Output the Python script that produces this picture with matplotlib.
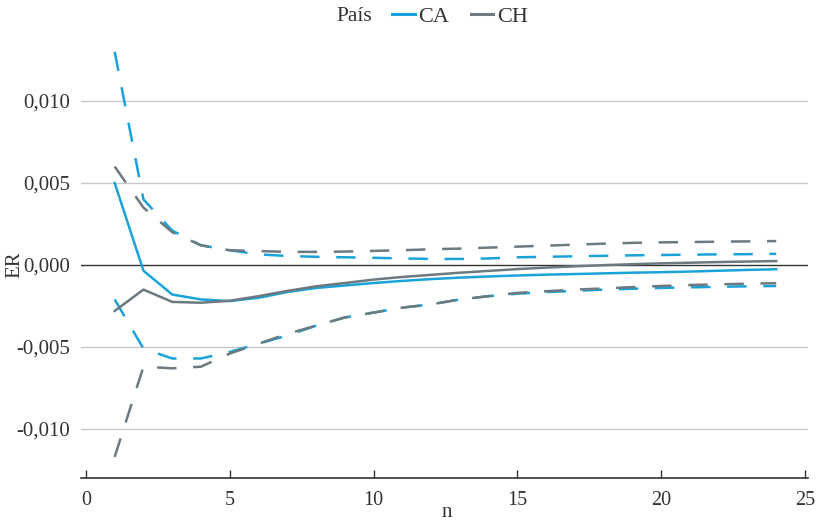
import matplotlib.pyplot as plt
from matplotlib.lines import Line2D

plt.rcParams['font.family'] = ['Liberation Serif', 'DejaVu Serif']
plt.rcParams['lines.scale_dashes'] = False

n = list(range(1, 25))

ca_er = [0.0050, -0.00035, -0.0018, -0.0021, -0.0022, -0.0020, -0.00165, -0.0014,
         -0.00125, -0.0011, -0.00097, -0.00086, -0.00077, -0.0007, -0.00064, -0.00059,
         -0.00055, -0.00051, -0.00047, -0.00044, -0.0004, -0.00035, -0.0003, -0.00026]
ca_sup = [0.0130, 0.0040, 0.0021, 0.0012, 0.0009, 0.00065, 0.00055, 0.0005,
          0.00047, 0.00044, 0.0004, 0.00037, 0.00037, 0.0004, 0.00047, 0.0005,
          0.00053, 0.00056, 0.00059, 0.00061, 0.00063, 0.00065, 0.00066, 0.00068]
ca_inf = [-0.0021, -0.0051, -0.0057, -0.0057, -0.0053, -0.0048, -0.0043, -0.0037,
          -0.0032, -0.0029, -0.0026, -0.0024, -0.0021, -0.0019, -0.00175, -0.00165,
          -0.00158, -0.0015, -0.00145, -0.0014, -0.00136, -0.00133, -0.0013, -0.00128]

ch_er = [-0.0028, -0.0015, -0.00225, -0.0023, -0.00218, -0.0019, -0.00158, -0.0013,
         -0.0011, -0.00089, -0.00073, -0.0006, -0.00047, -0.00036, -0.00025, -0.00016,
         -0.00008, -0.00001, 0.00005, 0.0001, 0.00014, 0.00018, 0.00021, 0.00024]
ch_sup = [0.0060, 0.0035, 0.0020, 0.0012, 0.0009, 0.00085, 0.0008, 0.0008,
          0.00082, 0.00086, 0.0009, 0.00096, 0.001, 0.00106, 0.00112, 0.00118,
          0.00124, 0.0013, 0.00135, 0.00138, 0.0014, 0.00142, 0.00144, 0.00146]
ch_inf = [-0.0117, -0.0062, -0.0063, -0.0062, -0.0054, -0.0048, -0.0042, -0.0037,
          -0.0032, -0.0029, -0.0026, -0.0024, -0.0021, -0.0019, -0.0017, -0.0016,
          -0.0015, -0.00143, -0.00135, -0.00128, -0.00122, -0.00118, -0.00114, -0.00111]

paises = ['CA', 'CH']
colores = {'CA': '#1aa3da', 'CH': '#6c7a80'}
series = {'CA': (ca_er, ca_sup, ca_inf), 'CH': (ch_er, ch_sup, ch_inf)}

fig = plt.figure(figsize=(8.21, 5.24), dpi=100)
ax = fig.add_axes([0.0987, 0.0874, 0.8853, 0.8294])

yticks = [-0.010, -0.005, 0.0, 0.005, 0.010]
for t in yticks:
    if t == 0:
        ax.axhline(t, color='#333333', lw=1.0, zorder=1)
    else:
        ax.axhline(t, color='#c8c8c8', lw=1.0, zorder=0)

for p in paises:
    er, sup, inf = series[p]
    c = colores[p]
    ax.plot(n, er, color=c, lw=1.8, zorder=3)
    ax.plot(n, sup, color=c, lw=1.8, dashes=(14, 12), zorder=3)
    ax.plot(n, inf, color=c, lw=1.8, dashes=(14, 12), zorder=3)

ax.set_xlim(-0.17, 25.1)
ax.set_ylim(-0.013, 0.0135)
ax.set_xticks([0, 5, 10, 15, 20, 25])
ax.set_yticks(yticks)
ax.set_yticklabels(['-0,010', '-0,005', '0,000', '0,005', '0,010'])

for s in ['top', 'right', 'left']:
    ax.spines[s].set_visible(False)
ax.spines['bottom'].set_color('#333333')
ax.spines['bottom'].set_linewidth(1.2)

ax.tick_params(axis='x', direction='in', length=6, width=1, color='#333333',
               labelsize=14.5, labelcolor='#333333', pad=9)
ax.tick_params(axis='y', length=0, labelsize=15, labelcolor='#333333', pad=8)

fig.text(0.018, 0.494, 'ER', rotation=90, ha='center', va='center',
         fontsize=15, color='#333333')
fig.text(0.544, 0.021, 'n', ha='center', va='center', fontsize=15, color='#333333')

fig.text(0.431, 0.968, 'País', ha='center', va='center', fontsize=15.5, color='#333333')
handles = [Line2D([], [], color=colores[p], lw=2.2) for p in paises]
fig.legend(handles, paises, loc='center left', bbox_to_anchor=(0.478, 0.968),
           ncol=2, frameon=False, fontsize=16, handlelength=1.0,
           handletextpad=0.15, columnspacing=1.0, borderpad=0, borderaxespad=0,
           labelcolor='#333333')

fig.savefig('out.png', dpi=100)
